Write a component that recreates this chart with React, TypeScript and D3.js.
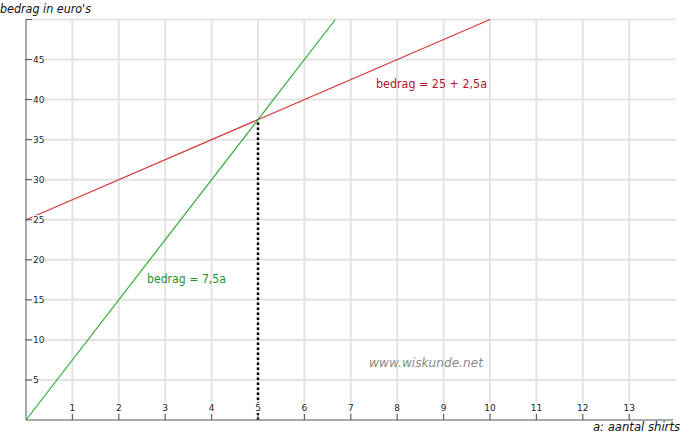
import React from "react";
import * as d3 from "d3";

const xTicks = [1, 2, 3, 4, 5, 6, 7, 8, 9, 10, 11, 12, 13];
const yTicks = [5, 10, 15, 20, 25, 30, 35, 40, 45];
const yGrid = [5, 10, 15, 20, 25, 30, 35, 40, 45, 50];
const redLine = [{ a: 0, b: 25 }, { a: 10, b: 50 }];
const greenLine = [{ a: 0, b: 0 }, { a: 50 / 7.5, b: 50 }];
const intersection = { a: 5, b: 37.5 };

const W = 684, H = 437;
const x = d3.scaleLinear().domain([0, 14]).range([26, 675.6]);
const y = d3.scaleLinear().domain([0, 50]).range([420, 19.5]);
const line = d3.line<{ a: number; b: number }>().x(d => x(d.a)).y(d => y(d.b));
const font = "'DejaVu Sans', Verdana, sans-serif";

export default function App() {
  return (
    <svg width={W} height={H} style={{ position: "absolute", left: 0, top: 0, background: "#fff" }} fontFamily={font}>
      <rect width={W} height={H} fill="#fff" />
      {xTicks.map(t => (
        <line key={"vx" + t} x1={x(t)} x2={x(t)} y1={y(50)} y2={y(0)} stroke="#e3e3e3" strokeWidth={2} />
      ))}
      {yGrid.map(t => (
        <line key={"hy" + t} x1={x(0)} x2={x(14)} y1={y(t)} y2={y(t)} stroke="#e3e3e3" strokeWidth={2} />
      ))}
      <path d={line(redLine)!} stroke="#d43a3a" strokeWidth={1.2} fill="none" />
      <path d={line(greenLine)!} stroke="#33aa33" strokeWidth={1.2} fill="none" />
      <line x1={x(intersection.a)} x2={x(intersection.a)} y1={y(0)} y2={y(intersection.b)} stroke="#000" strokeWidth={2.5} strokeDasharray="2.5,2.5" />
      {/* axes */}
      <line x1={x(0)} x2={x(0)} y1={y(50)} y2={y(0)} stroke="#555" strokeWidth={1} />
      <line x1={x(0)} x2={673} y1={y(0)} y2={y(0)} stroke="#555" strokeWidth={1} />
      <line x1={x(0)} x2={x(0) + 6} y1={y(50)} y2={y(50)} stroke="#555" strokeWidth={1} />
      {yTicks.map(t => (
        <g key={"yt" + t}>
          <rect x={x(0) + 6.5} y={y(t) - 4.5} width={t < 10 ? 6 : 11} height={9} fill="#fff" />
          <line x1={x(0) - 1} x2={x(0) + 6} y1={y(t)} y2={y(t)} stroke="#555" strokeWidth={1} />
          <text x={x(0) + 7} y={y(t)} dy="0.35em" fontSize={9} fill="#222">{t}</text>
        </g>
      ))}
      {xTicks.map(t => (
        <g key={"xt" + t}>
          <rect x={x(t) - (t < 10 ? 3.5 : 6)} y={y(0) - 17} width={t < 10 ? 7 : 12} height={10} fill="#fff" />
          <line x1={x(t)} x2={x(t)} y1={y(0)} y2={y(0) - 6} stroke="#555" strokeWidth={1} />
          <text x={x(t)} y={y(0) - 9} textAnchor="middle" fontSize={9} fill="#222">{t}</text>
        </g>
      ))}
      <text x={0} y={13} fontSize={12.5} fontStyle="italic" fill="#111" textLength={91} lengthAdjust="spacingAndGlyphs">bedrag in euro's</text>
      <text x={593} y={431} fontSize={12} fontStyle="italic" fill="#111" textLength={87} lengthAdjust="spacingAndGlyphs">a: aantal shirts</text>
      <text x={376} y={88} fontSize={11.5} fill="#b0182a" textLength={111} lengthAdjust="spacingAndGlyphs">bedrag = 25 + 2,5a</text>
      <text x={147} y={283} fontSize={11.5} fill="#2a8f2a" textLength={79} lengthAdjust="spacingAndGlyphs">bedrag = 7,5a</text>
      <text x={369} y={367} fontSize={12} fontStyle="italic" fill="#888" textLength={114} lengthAdjust="spacingAndGlyphs">www.wiskunde.net</text>
    </svg>
  );
}
